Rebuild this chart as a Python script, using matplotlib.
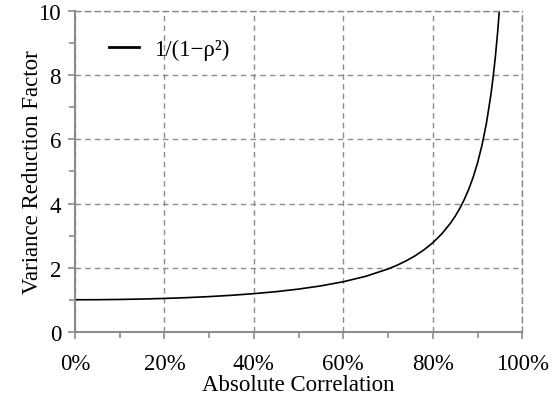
import matplotlib
matplotlib.use("Agg")
import matplotlib.pyplot as plt
from matplotlib.ticker import MultipleLocator, PercentFormatter

# valores
rho = [0.00, 0.05, 0.10, 0.15, 0.20, 0.25, 0.30, 0.35, 0.40, 0.45, 0.50,
       0.55, 0.60, 0.65, 0.70, 0.72, 0.74, 0.76, 0.78, 0.80, 0.82, 0.84,
       0.85, 0.86, 0.87, 0.88, 0.89, 0.90, 0.91, 0.92, 0.93, 0.935, 0.94,
       0.945, 0.9487]
factor = [1.000, 1.0025, 1.0101, 1.0230, 1.0417, 1.0667, 1.0989, 1.1396,
          1.1905, 1.2539, 1.3333, 1.4337, 1.5625, 1.7316, 1.9608, 2.0764,
          2.2104, 2.3674, 2.5536, 2.7778, 3.0525, 3.3967, 3.6036, 3.8402,
          4.1135, 4.4326, 4.8100, 5.2632, 5.8173, 6.5104, 7.4019, 7.9507,
          8.5911, 9.3480, 10.0]

plt.rcParams["font.family"] = ["Liberation Serif", "DejaVu Serif"]
GRIS = "#8c8c8c"
FS = 16.5

fig = plt.figure(figsize=(5.55, 4.02), dpi=100)
ax = fig.add_axes([0.135, 0.172, 0.806, 0.798])

ax.plot(rho, factor, color="black", lw=1.2, label="1/(1\u2212\u03c1\u00b2)")

ax.set_xlim(0, 1)
ax.set_ylim(0, 10)
ax.xaxis.set_major_locator(MultipleLocator(0.2))
ax.xaxis.set_minor_locator(MultipleLocator(0.1))
ax.yaxis.set_major_locator(MultipleLocator(2))
ax.yaxis.set_minor_locator(MultipleLocator(1))
ax.xaxis.set_major_formatter(PercentFormatter(1.0, decimals=0))

ax.grid(True, which="major", color=GRIS, ls=(0, (4, 3)), lw=1.0)
for s in ["top", "right"]:
    ax.spines[s].set_color(GRIS)
    ax.spines[s].set_linestyle((0, (4, 3)))
    ax.spines[s].set_linewidth(1.0)
for s in ["left", "bottom"]:
    ax.spines[s].set_color(GRIS)
    ax.spines[s].set_linewidth(1.5)

ax.tick_params(which="both", color=GRIS, width=1.2, labelsize=FS)
ax.tick_params(which="major", length=5, pad=5)
ax.tick_params(axis="x", which="major", pad=10)
ax.tick_params(which="minor", length=4)

ax.set_xlabel("Absolute Correlation", fontsize=FS, labelpad=0)
ax.set_ylabel("Variance Reduction Factor", fontsize=FS, labelpad=-3)

leg = ax.legend(loc="upper left", frameon=False, fontsize=FS,
                handlelength=1.35, handletextpad=0.65,
                bbox_to_anchor=(0.029, 0.978))
for h in leg.get_lines():
    h.set_linewidth(2)

fig.savefig("out.png", dpi=100)
